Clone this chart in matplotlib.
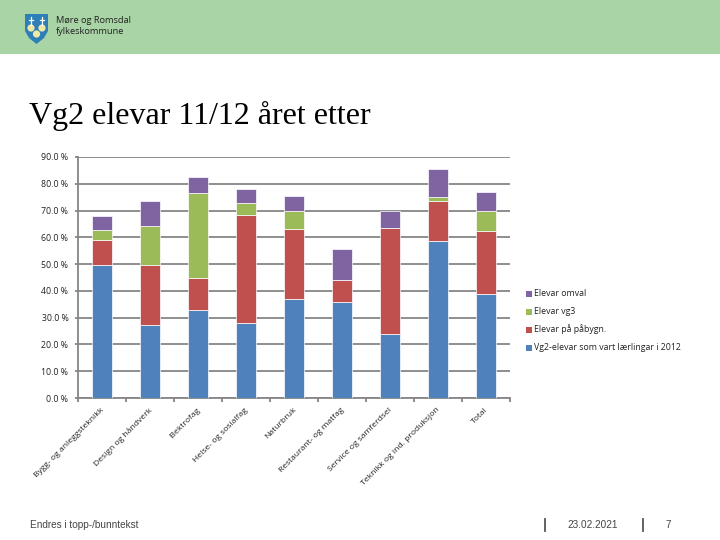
#!/usr/bin/env python3

import matplotlib
matplotlib.use('Agg')
import matplotlib.pyplot as plt
from matplotlib.patches import Polygon, Circle, Rectangle

categories = ['Bygg- og anleggsteknikk', 'Design og håndverk', 'Elektrofag',
              'Helse- og sosialfag', 'Naturbruk', 'Restaurant- og matfag',
              'Service og samferdsel', 'Teknikk og ind. produksjon', 'Total']
vg2_elevar = [49.6, 27.2, 32.8, 28.0, 37.0, 35.8, 24.0, 58.5, 39.0]
pabygg = [9.4, 22.4, 12.0, 40.3, 26.0, 8.2, 39.5, 15.0, 23.3]
vg3 = [3.7, 14.6, 31.7, 4.5, 7.0, 0.0, 0.0, 1.5, 7.5]
omval = [5.2, 9.3, 6.0, 5.2, 5.3, 11.6, 6.5, 10.4, 7.2]
series_names = ['Elevar omval', 'Elevar vg3', 'Elevar på påbygn.',
                'Vg2-elevar som vart lærlingar i 2012']
yticks = [0, 10, 20, 30, 40, 50, 60, 70, 80, 90]

W = 720
H = 540
fig = plt.figure(figsize=(7.2, 5.4), dpi=100, facecolor='white')
plt.rcParams['font.family'] = ['Liberation Sans', 'DejaVu Sans']

# page furniture, in pixel coordinates
bg = fig.add_axes([0, 0, 1, 1])
bg.set_xlim(0, W)
bg.set_ylim(H, 0)
bg.axis('off')
bg.add_patch(Rectangle((0, 0), W, 53.5, color='#A9D4A6', lw=0))

# logo
bg.add_patch(Polygon([(25, 14), (48, 14), (48, 31), (44, 38), (36.5, 44), (29, 38), (25, 31)],
                     closed=True, color='#2E7FB8', lw=0))
for cx, cy in [(31, 28), (42, 28), (36.5, 34)]:
    bg.add_patch(Circle((cx, cy), 3.6, color='#EFE9A8', lw=0))
for cx in [31, 42]:
    bg.plot([cx, cx], [17, 25], color='white', lw=0.9)
    bg.plot([cx - 2, cx + 2], [20, 20], color='white', lw=0.9)
bg.text(56, 20.5, 'Møre og Romsdal', fontsize=6.7, color='#222222', va='center', family='Open Sans')
bg.text(56, 32, 'fylkeskommune', fontsize=6.7, color='#222222', va='center', family='Open Sans')

bg.text(29, 116, 'Vg2 elevar 11/12 året etter', fontsize=23, family='Liberation Serif',
        color='black', va='center')

bg.text(30, 525, 'Endres i topp-/bunntekst', fontsize=7.2, color='#444444', va='center')
bg.text(567, 525, '23.02.2021', fontsize=7.2, color='#444444', va='center')
bg.text(666, 525, '7', fontsize=7.2, color='#444444', va='center')
bg.plot([545, 545], [519, 531], color='#555555', lw=1.3)
bg.plot([643, 643], [519, 531], color='#555555', lw=1.3)

# chart
ax = fig.add_axes([78 / W, 1 - 398 / H, (510 - 78) / W, (398 - 157) / H])
x = range(len(categories))
bottom = [0] * len(categories)
colors = ['#4F81BD', '#C0504D', '#9BBB59', '#8064A2']
values = [vg2_elevar, pabygg, vg3, omval]
for vals, col in zip(values, colors):
    ax.bar(x, vals, bottom=bottom, width=0.4, color=col, edgecolor='white', linewidth=0.5, zorder=3)
    bottom = [b + v for b, v in zip(bottom, vals)]

ax.set_xlim(-0.5, len(categories) - 0.5)
ax.set_ylim(0, 90)
ax.set_yticks(yticks)
ax.set_yticklabels(['%.1f %%' % t for t in yticks], fontsize=6.3, family='Open Sans', color='#222222')
ax.set_xticks([i - 0.5 for i in range(len(categories) + 1)])
ax.set_xticklabels([])
ax.tick_params(axis='both', color='#868686', width=1.3, length=3)
ax.tick_params(axis='y', length=2, pad=5)
ax.tick_params(axis='x', direction='out')
ax.grid(axis='y', color='#868686', lw=1.3, zorder=0)
ax.set_axisbelow(True)
for s in ['top', 'right']:
    ax.spines[s].set_visible(False)
for s in ['left', 'bottom']:
    ax.spines[s].set_color('#868686')
    ax.spines[s].set_linewidth(1.3)

for i, name in enumerate(categories):
    ax.annotate(name, (i, 0), xycoords=('data', 'axes fraction'), xytext=(-1, -6),
                textcoords='offset points', rotation=45, ha='right', va='top',
                rotation_mode='anchor', fontsize=6.1, family='Open Sans', color='#222222')

# legend
leg_y = [294, 312, 330, 348]
for y, col, name in zip(leg_y, colors[::-1], series_names):
    bg.add_patch(Rectangle((526, y - 3), 6, 6, color=col, lw=0))
    bg.text(534, y - 0.5, name, fontsize=6.3, family='Open Sans', color='#222222', va='center')

fig.savefig('out.png', dpi=100)
